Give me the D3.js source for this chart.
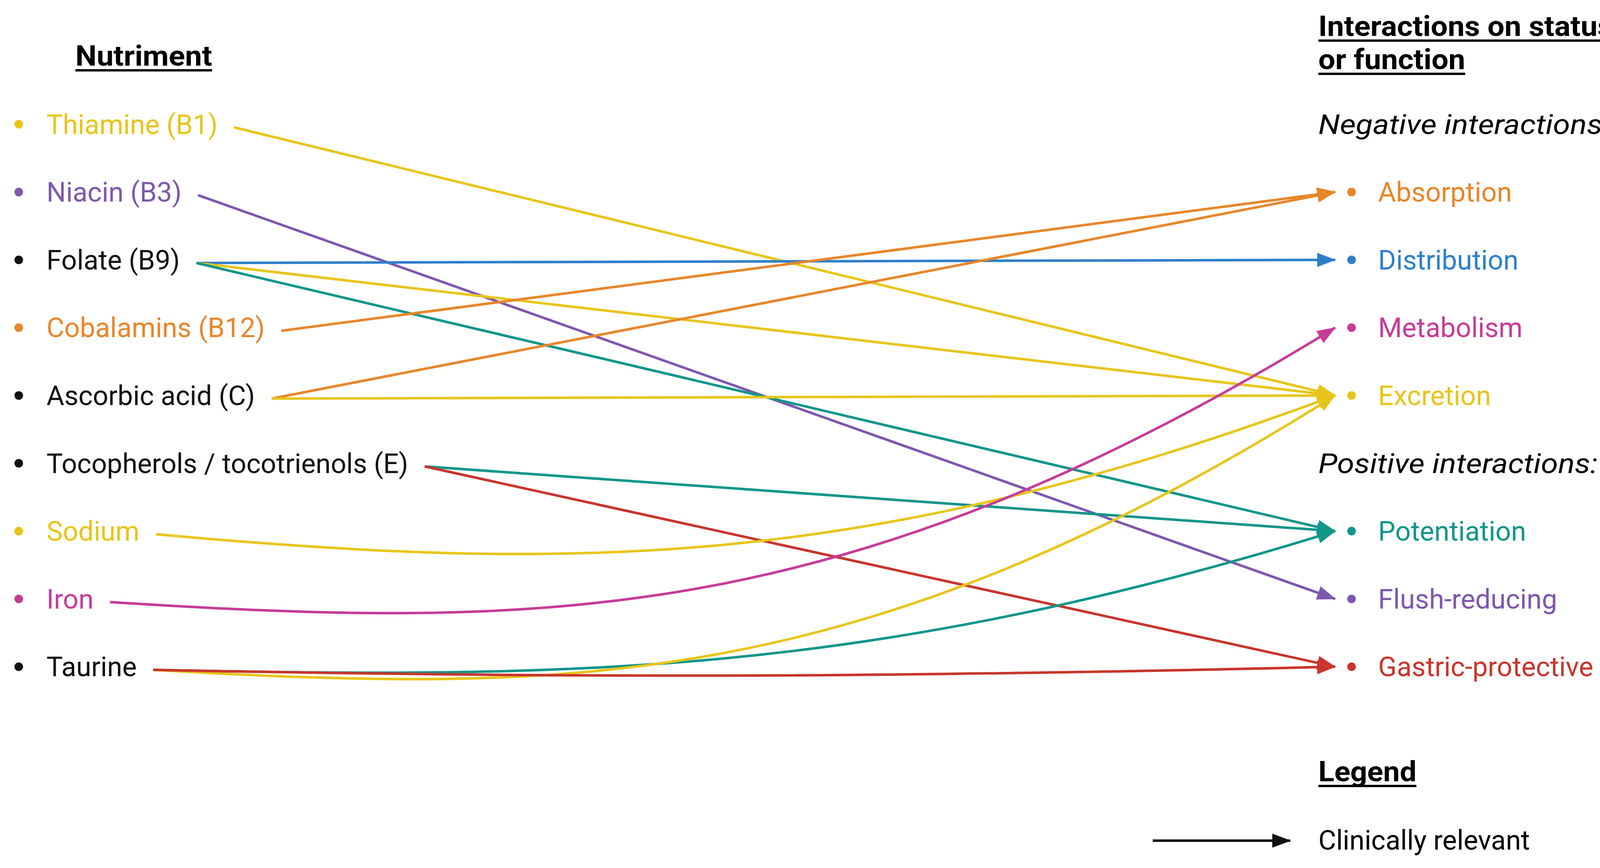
<!DOCTYPE html>
<meta charset="utf-8">
<style>
body { margin: 0; background: #fff; }
text { font-family: Roboto, "Noto Sans", sans-serif; }
</style>
<svg width="4150" height="2222"></svg>
<script src="https://cdn.jsdelivr.net/npm/d3@7"></script>
<script>

// nutriments on the left, one per row
var nutrients = ["Thiamine (B1)", "Niacin (B3)", "Folate (B9)", "Cobalamins (B12)", "Ascorbic acid (C)",
  "Tocopherols / tocotrienols (E)", "Sodium", "Iron", "Taurine"];
var nutrientColors = ["#E8C51A", "#7E57AE", "#111111", "#E8862A", "#111111",
  "#111111", "#E8C51A", "#C63C98", "#111111"];

// effects on the right, with the row they sit on
var effects = ["Absorption", "Distribution", "Metabolism", "Excretion", "Potentiation", "Flush-reducing", "Gastric-protective"];
var effectRows = [1, 2, 3, 4, 6, 7, 8];
var effectColors = ["#E8862A", "#2E7FCB", "#C63C98", "#E8C51A", "#11968A", "#7E57AE", "#C8352D"];

// links: source nutriment, target effect, sag of the curve (rows)
var links = [
  {from: "Thiamine (B1)", to: "Excretion", bend: 0},
  {from: "Niacin (B3)", to: "Flush-reducing", bend: 0},
  {from: "Folate (B9)", to: "Distribution", bend: 0},
  {from: "Folate (B9)", to: "Excretion", bend: 0},
  {from: "Folate (B9)", to: "Potentiation", bend: 0},
  {from: "Cobalamins (B12)", to: "Absorption", bend: 0},
  {from: "Ascorbic acid (C)", to: "Absorption", bend: 0},
  {from: "Ascorbic acid (C)", to: "Excretion", bend: 0},
  {from: "Tocopherols / tocotrienols (E)", to: "Potentiation", bend: 0},
  {from: "Tocopherols / tocotrienols (E)", to: "Gastric-protective", bend: 0},
  {from: "Sodium", to: "Excretion", bend: 0.55},
  {from: "Iron", to: "Metabolism", bend: 0.4},
  {from: "Taurine", to: "Potentiation", bend: 0.12},
  {from: "Taurine", to: "Excretion", bend: 0.35},
  {from: "Taurine", to: "Gastric-protective", bend: 0.12}
];

var svg = d3.select("svg");
var y = d3.scaleLinear().domain([0, 8]).range([318, 318 + 173.6 * 8]);
var leftBullet = 48, leftText = 119, rightBullet = 3460, rightText = 3528, arrowEnd = 3418;
var fs = 70;

// headers
function header(x, yy, txt, w, style) {
  var t = svg.append("text").attr("x", x).attr("y", yy)
    .attr("font-size", 72).attr("font-weight", "bold")
    .attr("textLength", w).attr("lengthAdjust", "spacingAndGlyphs").text(txt);
  svg.append("rect").attr("x", x).attr("y", yy + 9).attr("width", w).attr("height", 6).attr("fill", "#000");
}
header(193, 168, "Nutriment", 350);
header(3375, 92, "Interactions on status", 754);
header(3375, 177, "or function", 376);
header(3375, 2000, "Legend", 251);

svg.append("text").attr("x", 3375).attr("y", y(0)).attr("dy", "0.35em")
  .attr("font-size", fs).attr("font-style", "italic")
  .attr("textLength", 746).attr("lengthAdjust", "spacingAndGlyphs").text("Negative interactions:");
svg.append("text").attr("x", 3375).attr("y", y(5)).attr("dy", "0.35em")
  .attr("font-size", fs).attr("font-style", "italic")
  .attr("textLength", 715).attr("lengthAdjust", "spacingAndGlyphs").text("Positive interactions:");

// markers per colour
var defs = svg.append("defs");
var allColors = effectColors.concat(["#111111"]);
allColors.forEach(function(c, i) {
  defs.append("marker").attr("id", "m" + i)
    .attr("markerUnits", "userSpaceOnUse")
    .attr("viewBox", "0 0 48 36").attr("refX", 46).attr("refY", 18)
    .attr("markerWidth", 48).attr("markerHeight", 36).attr("orient", "auto")
    .append("path").attr("d", "M0,0L48,18L0,36Z").attr("fill", c);
});

// left labels
var left = svg.append("g");
var endX = {};
nutrients.forEach(function(n, i) {
  left.append("circle").attr("cx", leftBullet).attr("cy", y(i)).attr("r", 11).attr("fill", nutrientColors[i]);
  var t = left.append("text").attr("x", leftText).attr("y", y(i)).attr("dy", "0.35em")
    .attr("font-size", fs).attr("fill", nutrientColors[i]).text(n);
  endX[n] = leftText + t.node().getComputedTextLength() + 42;
});

// right labels
effects.forEach(function(e, i) {
  svg.append("circle").attr("cx", rightBullet).attr("cy", y(effectRows[i])).attr("r", 11).attr("fill", effectColors[i]);
  svg.append("text").attr("x", rightText).attr("y", y(effectRows[i])).attr("dy", "0.35em")
    .attr("font-size", fs).attr("fill", effectColors[i]).text(e);
});

// links
svg.append("g").selectAll("path").data(links).enter().append("path")
  .attr("fill", "none")
  .attr("stroke-width", 6.5)
  .attr("stroke", function(d) { return effectColors[effects.indexOf(d.to)]; })
  .attr("marker-end", function(d) { return "url(#m" + effects.indexOf(d.to) + ")"; })
  .attr("d", function(d) {
    var r0 = nutrients.indexOf(d.from), ti = effects.indexOf(d.to);
    var x0 = endX[d.from], y0 = y(r0) + 8;
    var x1 = arrowEnd, y1 = y(effectRows[ti]);
    if (!d.bend) return "M" + x0 + "," + y0 + "L" + x1 + "," + y1;
    var dx = x1 - x0, k = y(d.bend) - y(0);
    return "M" + x0 + "," + y0 + "C" + (x0 + 0.35 * dx) + "," + (y0 + k) + " " +
      (x0 + 0.6 * dx) + "," + (y0 + k) + " " + x1 + "," + y1;
  });

// legend
svg.append("line").attr("x1", 2951).attr("x2", 3303).attr("y1", 2152).attr("y2", 2152)
  .attr("stroke", "#111111").attr("stroke-width", 6.5).attr("marker-end", "url(#m" + effectColors.length + ")");
svg.append("text").attr("x", 3375).attr("y", 2150).attr("dy", "0.35em")
  .attr("font-size", fs).text("Clinically relevant");
</script>
